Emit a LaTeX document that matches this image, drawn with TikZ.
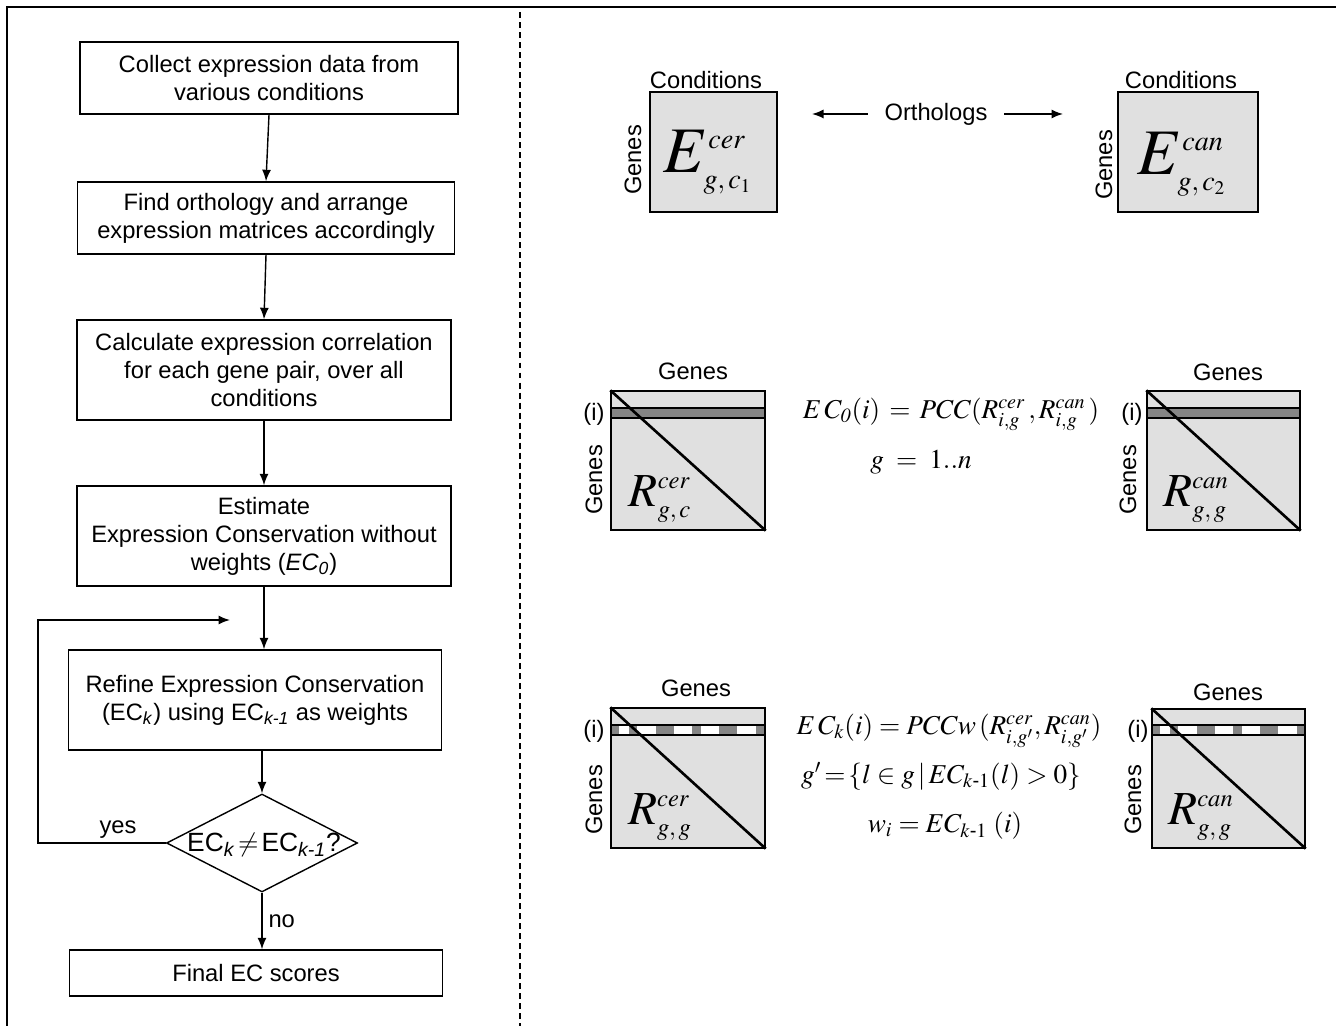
\documentclass[tikz,border=0pt]{standalone}
\usepackage{amsmath}
\usepackage{mathptmx}
\usepackage[no-math]{fontspec}
\setmainfont{Liberation Sans}
\usepackage{tikz}
\usetikzlibrary{shapes.geometric, arrows.meta}
\definecolor{matrixGrey}{HTML}{E0E0E0}
\definecolor{bandGrey}{HTML}{858585}
\DeclareMathSizes{37}{37}{16}{11}
\DeclareMathSizes{27}{27}{14}{10}

\begin{document}
\begin{tikzpicture} [
    x=0.02cm, y=-0.02cm,
    font=\fontsize{13.5}{16}\selectfont,
    process/.style={rectangle, draw, line width=0.8pt, align=center, inner sep=0pt},
    decision/.style={diamond, draw, line width=0.8pt, minimum width=3.82cm, minimum height=1.96cm, inner sep=0pt},
    matrixBox/.style={rectangle, draw, line width=0.8pt, fill=matrixGrey, inner sep=0pt},
    band/.style={draw, line width=0.8pt, fill=bandGrey},
    diagonal/.style={line width=1.5pt},
    arrow/.style={line width=0.8pt, -{Latex[length=2.3mm, width=1.8mm]}},
    frame/.style={line width=0.8pt},
    bigMath/.style={font=\fontsize{37}{40}\selectfont},
    midMath/.style={font=\fontsize{27}{30}\selectfont},
    formula/.style={font=\fontsize{15.5}{18}\selectfont}
]
    \useasboundingbox (0,0) rectangle (1336,1026);

    % frame
    \draw[frame] (7,1026) -- (7,7) -- (1336,7);
    \draw[frame, dash pattern=on 3.4pt off 2.3pt] (520,12) -- (520,1026);

    % flow chart
    \node[process, minimum width=7.56cm, minimum height=1.44cm] (collect) at (269,78) {Collect expression data from\\various conditions};
    \node[process, minimum width=7.54cm, minimum height=1.44cm] (ortho) at (266,218) {Find orthology and arrange\\expression matrices accordingly};
    \node[process, minimum width=7.48cm, minimum height=2cm] (corr) at (264,370) {Calculate expression correlation\\for each gene pair, over all\\conditions};
    \node[process, minimum width=7.48cm, minimum height=2cm] (estimate) at (264,536) {Estimate\\Expression Conservation without\\weights (\textit{EC\textsubscript{0}})};
    \node[process, minimum width=7.46cm, minimum height=2cm] (refine) at (255,700) {Refine Expression Conservation\\(EC\textsubscript{\textit{k}}) using EC\textsubscript{\textit{k-1}} as weights};
    \node[decision] (check) at (262,843) {};
    \node[font=\fontsize{15}{17}\selectfont] (checkText) at (264,845) {EC\textsubscript{\textit{k}}$\,\neq\,$EC\textsubscript{\textit{k-1}}?};
    \node[process, minimum width=7.46cm, minimum height=0.92cm] (final) at (256,973) {Final EC scores};

    \draw[arrow] (collect.south) -- (ortho.north);
    \draw[arrow] (ortho.south) -- (corr.north);
    \draw[arrow] (corr.south) -- (estimate.north);
    \draw[arrow] (estimate.south) -- (estimate.south |- refine.north);
    \draw[arrow] (check.north |- refine.south) -- (check.north);
    \draw[arrow] (check.south) -- node[right] (noLabel) {no} (check.south |- final.north);

    \coordinate (loopCorner) at (38,620);
    \coordinate (loopEnd) at (230,620);
    \draw[arrow] (check.west) -| (loopCorner) -- (loopEnd);
    \node (yesLabel) at (118,830) {yes};

    % expression matrices
    \node[matrixBox, minimum width=2.54cm, minimum height=2.4cm] (Ecer) at (713.5,152) {};
    \node[bigMath] (EcerText) at (708,162) {$E^{cer}_{g,\,c_1}$};
    \node (EcerCond) at (706,80) {Conditions};
    \node[rotate=90] (EcerGenes) at (633,160) {Genes};

    \node[matrixBox, minimum width=2.8cm, minimum height=2.4cm] (Ecan) at (1188,152) {};
    \node[bigMath] (EcanText) at (1182,164) {$E^{can}_{g,\,c_2}$};
    \node (EcanCond) at (1181,80) {Conditions};
    \node[rotate=90] (EcanGenes) at (1104,165) {Genes};

    \node[inner xsep=9.5pt] (orthologs) at (936,114) {Orthologs};
    \coordinate (orthLeft) at (812,114);
    \coordinate (orthRight) at (1063,114);
    \draw[arrow] (orthologs) -- (orthLeft);
    \draw[arrow] (orthologs) -- (orthRight);

    % correlation matrices, EC0
    \node[matrixBox, minimum width=3.08cm, minimum height=2.78cm] (Rcer) at (688,460.5) {};
    \draw[band] (611,408) rectangle (765,418);
    \draw[diagonal] (Rcer.north west) -- (Rcer.south east);
    \node (RcerTop) at (693,371) {Genes};
    \node (RcerRow) at (594,414) {(i)};
    \node[rotate=90] (RcerSide) at (594,480) {Genes};
    \node[midMath] (RcerText) at (660,499) {$R^{cer}_{g,\,c}$};

    \node[matrixBox, minimum width=3.06cm, minimum height=2.78cm] (Rcan) at (1223.5,460.5) {};
    \draw[band] (1147,408) rectangle (1300,418);
    \draw[diagonal] (Rcan.north west) -- (Rcan.south east);
    \node (RcanTop) at (1228,372) {Genes};
    \node (RcanRow) at (1132,414) {(i)};
    \node[rotate=90] (RcanSide) at (1128,480) {Genes};
    \node[midMath] (RcanText) at (1196,499) {$R^{can}_{g,\,g}$};

    \node[formula] (ecZero) at (951,414) {$E\,C_{\mathit{0}}(i) \,=\, PCC(R^{cer}_{i,g}\,, R^{can}_{i,g}\,)$};
    \node[formula] (gRange) at (921,462) {$g \;=\; 1..n$};

    % correlation matrices, ECk
    \node[matrixBox, minimum width=3.08cm, minimum height=2.8cm] (RcerW) at (688,778) {};
    \draw[line width=0.8pt, fill=white] (611,725) rectangle (765,735);
    \fill[bandGrey] (611,725) rectangle (619,735);
    \fill[bandGrey] (629,725) rectangle (637,735);
    \fill[bandGrey] (656,725) rectangle (674,735);
    \fill[bandGrey] (692,725) rectangle (701,735);
    \fill[bandGrey] (719,725) rectangle (737,735);
    \fill[bandGrey] (756,725) rectangle (765,735);
    \draw[line width=0.8pt] (611,725) rectangle (765,735);
    \draw[diagonal] (RcerW.north west) -- (RcerW.south east);
    \node (RcerWTop) at (696,688) {Genes};
    \node (RcerWRow) at (594,731) {(i)};
    \node[rotate=90] (RcerWSide) at (594,800) {Genes};
    \node[midMath] (RcerWText) at (660,817) {$R^{cer}_{g,\,g}$};

    \node[matrixBox, minimum width=3.06cm, minimum height=2.78cm] (RcanW) at (1228.5,778.5) {};
    \draw[line width=0.8pt, fill=white] (1152,725) rectangle (1305,735);
    \fill[bandGrey] (1152,725) rectangle (1160,735);
    \fill[bandGrey] (1170,725) rectangle (1178,735);
    \fill[bandGrey] (1197,725) rectangle (1215,735);
    \fill[bandGrey] (1233,725) rectangle (1242,735);
    \fill[bandGrey] (1260,725) rectangle (1278,735);
    \fill[bandGrey] (1297,725) rectangle (1305,735);
    \draw[line width=0.8pt] (1152,725) rectangle (1305,735);
    \draw[diagonal] (RcanW.north west) -- (RcanW.south east);
    \node (RcanWTop) at (1228,692) {Genes};
    \node (RcanWRow) at (1138,731) {(i)};
    \node[rotate=90] (RcanWSide) at (1133,800) {Genes};
    \node[midMath] (RcanWText) at (1201,817) {$R^{can}_{g,\,g}$};

    \node[formula] (ecK) at (949,731) {$E\,C_k(i) = PCCw\,(R^{cer}_{i,g'}, R^{can}_{i,g'})$};
    \node[formula] (gPrime) at (941,776) {$g'\!=\!\{l\in g\,|\,EC_{k\text{-}1}(l) > 0\}$};
    \node[formula] (weight) at (945,826) {$w_i = EC_{k\text{-}1}\;(i)$};

\end{tikzpicture}
\end{document}
